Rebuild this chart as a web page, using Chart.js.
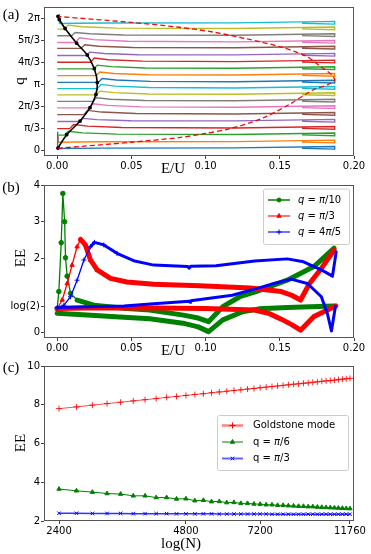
<!DOCTYPE html>
<html>
<head>
<meta charset="utf-8">
<title>EE panels</title>
<script src="https://cdn.jsdelivr.net/npm/chart.js@4.4.1/dist/chart.umd.min.js"></script>
<style>
  body { margin: 0; background: #fff; }
  #fig { position: relative; width: 371px; height: 554px; overflow: hidden; }
  canvas { position: absolute; left: 0; }
  .t { position: absolute; font-family: "Liberation Serif", serif; font-size: 15px; line-height: 1;
       color: #000; white-space: nowrap; transform: translate(-50%, -50%); }
  .r { transform: translate(-50%, -50%) rotate(-90deg); }
</style>
</head>
<body>
<div id="fig">
  <canvas id="ca" width="371" height="182" style="top:0"></canvas>
  <canvas id="cb" width="371" height="186" style="top:176px"></canvas>
  <canvas id="cc" width="371" height="198" style="top:356px"></canvas>

  <div class="t" style="left:11px;top:14px">(a)</div>
  <div class="t r" style="left:19px;top:81px">q</div>
  <div class="t" style="left:173px;top:168px">E/U</div>

  <div class="t" style="left:11px;top:187px">(b)</div>
  <div class="t r" style="left:20px;top:258px">EE</div>
  <div class="t" style="left:173px;top:350px">E/U</div>

  <div class="t" style="left:11px;top:367px">(c)</div>
  <div class="t r" style="left:20px;top:443px">EE</div>
  <div class="t" style="left:181px;top:543px">log(N)</div>
</div>
<script>
// ---------- panel (a) ----------
const tab10 = ['#1f77b4', '#ff7f0e', '#2ca02c', '#d62728', '#9467bd', '#8c564b', '#e377c2', '#7f7f7f', '#bcbd22', '#17becf']
const qLevels = [0.08, 0.38, 0.72, 1.03, 1.37, 1.70, 2.02, 2.33, 2.64, 2.94, 3.24, 3.56, 3.88, 4.20, 4.52, 4.86, 5.14, 5.46, 5.78, 6.05]
const bumpE = [0, 0.0004, 0.005, 0.0085, 0.0148, 0.018, 0.0218, 0.024, 0.0263, 0.027, 0.0278, 0.0263, 0.0245, 0.0225, 0.0195, 0.016, 0.0125, 0.0097, 0.0048, 0.0012]
const bumpH = [0.8, 0.31, 0.18, 0.2, 0.15, 0.2, 0.2, 0.17, 0.18, 0.2, 0.18, 0.17, 0.18, 0.2, 0.16, 0.17, 0.23, 0.16, 0.19, 0.45]

const blackE = [0.0005, 0.0064, 0.0154, 0.0221, 0.0261, 0.027, 0.025, 0.0203, 0.0131, 0.0053, 0.0014, 0.0005]
const blackQ = [0.10, 0.74, 1.39, 2.03, 2.66, 3.23, 3.89, 4.54, 5.11, 5.81, 6.24, 6.39]

const dashE = [0.0005, 0.05, 0.082, 0.099, 0.116, 0.138, 0.156, 0.172, 0.183, 0.187, 0.185, 0.177, 0.168, 0.150, 0.128, 0.105, 0.082, 0.05, 0.001]
const dashQ = [0.09, 0.38, 0.60, 0.79, 1.02, 1.52, 2.17, 2.86, 3.15, 3.35, 3.60, 4.02, 4.48, 4.94, 5.31, 5.64, 5.87, 6.10, 6.38]

const eTicks = [0, 0.05, 0.1, 0.15, 0.2]
const eLabels = ['0.00', '0.05', '0.10', '0.15', '0.20']
const qTicks = [0, Math.PI / 3, 2 * Math.PI / 3, Math.PI, 4 * Math.PI / 3, 5 * Math.PI / 3, 2 * Math.PI]
const qLabels = ['0', 'π/3', '2π/3', 'π', '4π/3', '5π/3', '2π']

// ---------- panel (b) ----------
const gUpE  = [0, 0.0011, 0.0027, 0.0038, 0.005, 0.0056, 0.0067, 0.009, 0.0134, 0.0247, 0.047, 0.0623, 0.085, 0.095, 0.102, 0.1116, 0.123, 0.134, 0.155, 0.173, 0.1866]
const gUpEE = [0.64, 1.10, 2.43, 3.77, 3.00, 2.02, 1.52, 1.05, 0.87, 0.73, 0.64, 0.60, 0.46, 0.38, 0.28, 0.69, 0.96, 1.10, 1.41, 1.78, 2.28]
const gLowE  = [0, 0.02, 0.045, 0.0624, 0.0847, 0.095, 0.102, 0.1116, 0.125, 0.136, 0.155, 0.1866]
const gLowEE = [0.51, 0.46, 0.40, 0.36, 0.24, 0.14, 0.01, 0.33, 0.55, 0.63, 0.67, 0.71]

const rUpE  = [0, 0.0034, 0.0067, 0.010, 0.0134, 0.0157, 0.019, 0.0224, 0.0269, 0.0359, 0.047, 0.065, 0.096, 0.13, 0.151, 0.158, 0.164, 0.17, 0.178, 0.1866]
const rUpEE = [0.64, 0.87, 1.32, 1.82, 2.32, 2.52, 2.37, 1.96, 1.69, 1.46, 1.36, 1.30, 1.26, 1.20, 1.10, 1.00, 0.87, 1.32, 1.73, 2.23]
const rLowE  = [0, 0.03, 0.065, 0.1, 0.133, 0.143, 0.151, 0.158, 0.164, 0.173, 0.1877]
const rLowEE = [0.64, 0.66, 0.65, 0.64, 0.60, 0.50, 0.35, 0.20, 0.05, 0.42, 0.71]

const bUpE  = [0, 0.0045, 0.009, 0.0134, 0.018, 0.0224, 0.0251, 0.0314, 0.0403, 0.0515, 0.065, 0.088, 0.089, 0.090, 0.107, 0.133, 0.155, 0.166, 0.178, 0.1855, 0.188]
const bUpEE = [0.66, 0.73, 0.96, 1.41, 1.96, 2.32, 2.44, 2.37, 2.14, 1.94, 1.82, 1.78, 1.74, 1.79, 1.80, 1.93, 1.99, 1.91, 1.69, 1.52, 2.18]
const bLowE  = [0, 0.02, 0.045, 0.065, 0.089, 0.0895, 0.09, 0.118, 0.136, 0.146, 0.1575, 0.1686, 0.178, 0.182, 0.1848, 0.1875]
const bLowEE = [0.67, 0.69, 0.71, 0.77, 0.84, 0.81, 0.85, 1.00, 1.20, 1.32, 1.44, 1.32, 0.96, 0.51, 0.03, 0.70]

const eeTicks = [0, Math.log(2), 2, 3, 4]
const eeLabels = ['0', 'log(2)', '2', '3', '4']

// ---------- panel (c) ----------
const sizesN = [2400, 2640, 2880, 3120, 3360, 3600, 3840, 4080, 4320, 4560, 4800, 5040, 5280, 5520, 5760, 6000, 6240, 6480, 6720, 6960,
  7200, 7440, 7680, 7920, 8160, 8400, 8640, 8880, 9120, 9360, 9600, 9840, 10080, 10320, 10560, 10800, 11040, 11280, 11520, 11760]
const goldstoneEE = [7.80, 7.89, 7.98, 8.06, 8.13, 8.20, 8.26, 8.32, 8.38, 8.43, 8.48, 8.53, 8.57, 8.62, 8.66, 8.70, 8.74, 8.77, 8.81, 8.84,
  8.88, 8.91, 8.94, 8.97, 9.00, 9.03, 9.06, 9.08, 9.11, 9.13, 9.16, 9.18, 9.21, 9.23, 9.25, 9.27, 9.30, 9.32, 9.34, 9.36]
const sixthEE = [3.65, 3.56, 3.49, 3.42, 3.39, 3.30, 3.30, 3.21, 3.21, 3.14, 3.15, 3.05, 3.07, 3.00, 3.01, 2.95, 2.96, 2.91, 2.91, 2.88,
  2.87, 2.84, 2.84, 2.81, 2.81, 2.79, 2.78, 2.76, 2.76, 2.74, 2.74, 2.72, 2.71, 2.70, 2.69, 2.68, 2.67, 2.66, 2.65, 2.64]
const thirdEE = [2.40, 2.40, 2.39, 2.39, 2.39, 2.38, 2.38, 2.38, 2.38, 2.37, 2.37, 2.37, 2.37, 2.37, 2.36, 2.36, 2.36, 2.36, 2.36, 2.36,
  2.36, 2.36, 2.35, 2.35, 2.35, 2.35, 2.35, 2.35, 2.35, 2.35, 2.35, 2.35, 2.35, 2.35, 2.35, 2.35, 2.35, 2.35, 2.35, 2.35]
const nTicks = [2400, 4800, 7200, 11760]
const nLabels = ['2400', '4800', '7200', '11760']
const eeTicksC = [2, 4, 6, 8, 10]
const eeLabelsC = ['2', '4', '6', '8', '10']

// ---------- helpers ----------
const tickFont = {family: 'DejaVu Sans', size: 10}

function pairs(xs, ys) {
    return xs.map((x, i) => ({x: x, y: ys[i]}))
}

function axis(min, max, ticksArr, labels, size, isX, type) {
    return {
        type: type || 'linear',
        min: min,
        max: max,
        afterBuildTicks: s => { s.ticks = ticksArr.map(v => ({value: v})) },
        afterFit: s => { if (isX) s.height = size; else s.width = size },
        grid: {drawOnChartArea: false, drawTicks: true, tickLength: 3, color: '#444', lineWidth: 1},
        border: {display: false},
        ticks: {font: tickFont, color: '#000', padding: 1, maxRotation: 0, autoSkip: false,
            callback: (v, i) => labels[i]}
    }
}

const framePlugin = {
    id: 'frame',
    afterDraw(chart) {
        const a = chart.chartArea, ctx = chart.ctx
        ctx.save()
        ctx.strokeStyle = '#555'
        ctx.lineWidth = 1
        ctx.strokeRect(a.left + 0.5, a.top + 0.5, a.right - a.left - 1, a.bottom - a.top - 1)
        ctx.restore()
    }
}

function boxLegend(cfg) {
    return {
        id: 'boxLegend',
        afterDraw(chart) {
            const ctx = chart.ctx
            ctx.save()
            ctx.fillStyle = 'rgba(255,255,255,0.85)'
            ctx.strokeStyle = '#cccccc'
            ctx.lineWidth = 1
            ctx.beginPath()
            ctx.roundRect(cfg.x + 0.5, cfg.y + 0.5, cfg.w, cfg.h, 2)
            ctx.fill()
            ctx.stroke()
            cfg.rows.forEach(r => {
                ctx.strokeStyle = r.line
                ctx.lineWidth = r.lw
                ctx.beginPath()
                ctx.moveTo(cfg.x0, r.y)
                ctx.lineTo(cfg.x1, r.y)
                ctx.stroke()
                ctx.fillStyle = r.mark
                ctx.strokeStyle = r.mark
                ctx.lineWidth = 1
                Chart.helpers.drawPoint(ctx, {pointStyle: r.style, radius: r.radius, rotation: 0, borderWidth: 1},
                    (cfg.x0 + cfg.x1) / 2, r.y)
                let x = cfg.tx
                ctx.fillStyle = '#000'
                ctx.textBaseline = 'middle'
                r.parts.forEach(p => {
                    ctx.font = (p.it ? 'italic ' : '') + '10px "DejaVu Sans"'
                    ctx.fillText(p.t, x, r.y)
                    x += ctx.measureText(p.t).width
                })
            })
            ctx.restore()
        }
    }
}

const baseOptions = (padTop, scales) => ({
    responsive: false,
    animation: false,
    devicePixelRatio: 1,
    events: [],
    layout: {padding: {top: padTop, right: 17, left: 0, bottom: 0}},
    plugins: {legend: {display: false}, tooltip: {enabled: false}},
    scales: scales
})

// ---------- draw (a) ----------
function rowPoints(k) {
    const q = qLevels[k], e = bumpE[k], h = bumpH[k]
    let pts
    if (e < 0.0015) {
        pts = [{x: e + 0.0003, y: q + h}, {x: e + 0.0003, y: q}, {x: 0.03, y: q + 0.02}]
    } else {
        pts = [{x: 0, y: q}, {x: e, y: q}, {x: e + 0.0025, y: q + h},
               {x: e + 0.012, y: q + 0.6 * h}, {x: e + 0.035, y: q + 0.25 * h}]
    }
    // closing wedge where the two branches meet at the band edge
    pts.push({x: 0.12, y: q + 0.03}, {x: 0.187, y: q + 0.1}, {x: 0.187, y: q - 0.03}, {x: 0.165, y: q + 0.01})
    return pts
}

const aSets = qLevels.map((q, k) => ({
    data: rowPoints(k),
    showLine: true,
    borderColor: tab10[k % 10],
    borderWidth: 1.4,
    pointRadius: 0,
    order: 10
}))
aSets.push({
    data: pairs(blackE, blackQ), showLine: true, borderColor: '#000', borderWidth: 1.6,
    pointRadius: 1.1, pointBackgroundColor: '#000', pointBorderColor: '#000', tension: 0.35, order: 2
})
aSets.push({
    data: pairs(dashE, dashQ), showLine: true, borderColor: 'rgba(235,0,0,0.95)', borderWidth: 1.3,
    borderDash: [5, 3], pointRadius: 0, tension: 0.3, order: 1
})

new Chart(document.getElementById('ca'), {
    type: 'scatter',
    data: {datasets: aSets},
    options: baseOptions(2, {
        x: axis(-0.0089, 0.2, eTicks, eLabels, 26, true),
        y: axis(-0.277, 6.836, qTicks, qLabels, 44, false)
    }),
    plugins: [framePlugin]
})

// ---------- draw (b) ----------
function branch(es, vs, color, wide, thinUntil, style, r, markUntil, order) {
    return {
        data: pairs(es, vs),
        showLine: true,
        borderColor: color,
        backgroundColor: color,
        pointBackgroundColor: color,
        pointBorderColor: color,
        pointStyle: style,
        pointBorderWidth: 1,
        pointRadius: c => (c.raw && c.raw.x < markUntil ? r : 0),
        borderWidth: wide,
        segment: {borderWidth: c => (c.p0.parsed.x < thinUntil ? 1.3 : wide)},
        borderJoinStyle: 'round',
        borderCapStyle: 'round',
        order: order
    }
}

const bSets = [
    branch(gUpE, gUpEE, '#008000', 5, 0.0095, 'circle', 2.3, 0.0095, 6),
    branch(gLowE, gLowEE, '#008000', 5, -1, 'circle', 0, -1, 5),
    branch(rUpE, rUpEE, '#ff0000', 5, 0.015, 'triangle', 2.5, 0.03, 4),
    branch(rLowE, rLowEE, '#ff0000', 5, -1, 'triangle', 0, -1, 3),
    branch(bUpE, bUpEE, '#0000ff', 3, 0.02, 'cross', 2.5, 0.045, 2),
    branch(bLowE, bLowEE, '#0000ff', 3, -1, 'cross', 0, -1, 1)
]

new Chart(document.getElementById('cb'), {
    type: 'scatter',
    data: {datasets: bSets},
    options: baseOptions(9, {
        x: axis(-0.0089, 0.2, eTicks, eLabels, 24, true),
        y: axis(-0.163, 4, eeTicks, eeLabels, 44, false)
    }),
    plugins: [framePlugin, boxLegend({
        x: 263, y: 12.5, w: 86, h: 55.5, x0: 268, x1: 290, tx: 298,
        rows: [
            {y: 24, line: '#008000', lw: 1.5, mark: '#008000', style: 'circle', radius: 2,
             parts: [{t: 'q', it: true}, {t: ' = '}, {t: 'π', it: true}, {t: '/10'}]},
            {y: 40, line: 'rgba(255,0,0,0.55)', lw: 2, mark: '#ff0000', style: 'triangle', radius: 2.5,
             parts: [{t: 'q', it: true}, {t: ' = '}, {t: 'π', it: true}, {t: '/3'}]},
            {y: 56, line: 'rgba(0,0,255,0.55)', lw: 2, mark: '#0000ff', style: 'cross', radius: 2.5,
             parts: [{t: 'q', it: true}, {t: ' = 4'}, {t: 'π', it: true}, {t: '/5'}]}
        ]
    })]
})

// ---------- draw (c) ----------
const cSets = [
    {data: pairs(sizesN, goldstoneEE), showLine: true, borderColor: 'rgba(255,0,0,0.7)', borderWidth: 1,
     pointStyle: 'cross', pointRadius: 3, pointBorderWidth: 1, pointBorderColor: 'rgba(255,0,0,0.85)', order: 3},
    {data: pairs(sizesN, sixthEE), showLine: true, borderColor: '#008000', borderWidth: 1,
     pointStyle: 'triangle', pointRadius: 2.5, pointBorderWidth: 1, pointBackgroundColor: '#008000',
     pointBorderColor: '#008000', order: 2},
    {data: pairs(sizesN, thirdEE), showLine: true, borderColor: 'rgba(0,0,255,0.8)', borderWidth: 1.5,
     pointStyle: 'crossRot', pointRadius: 2.5, pointBorderWidth: 1, pointBorderColor: '#0000ff', order: 1}
]

new Chart(document.getElementById('cc'), {
    type: 'scatter',
    data: {datasets: cSets},
    options: baseOptions(10, {
        x: axis(2211, 12020, nTicks, nLabels, 33, true, 'logarithmic'),
        y: axis(2, 10, eeTicksC, eeLabelsC, 44, false)
    }),
    plugins: [framePlugin, boxLegend({
        x: 217, y: 59, w: 131, h: 55, x0: 222, x1: 243, tx: 253,
        rows: [
            {y: 69.5, line: 'rgba(255,0,0,0.5)', lw: 2.5, mark: '#ff0000', style: 'cross', radius: 3,
             parts: [{t: 'Goldstone mode'}]},
            {y: 86, line: '#008000', lw: 1, mark: '#008000', style: 'triangle', radius: 2.5,
             parts: [{t: 'q = '}, {t: 'π', it: true}, {t: '/6'}]},
            {y: 102.5, line: 'rgba(0,0,255,0.6)', lw: 2, mark: '#0000ff', style: 'crossRot', radius: 2.5,
             parts: [{t: 'q = '}, {t: 'π', it: true}, {t: '/3'}]}
        ]
    })]
})
</script>
</body>
</html>
